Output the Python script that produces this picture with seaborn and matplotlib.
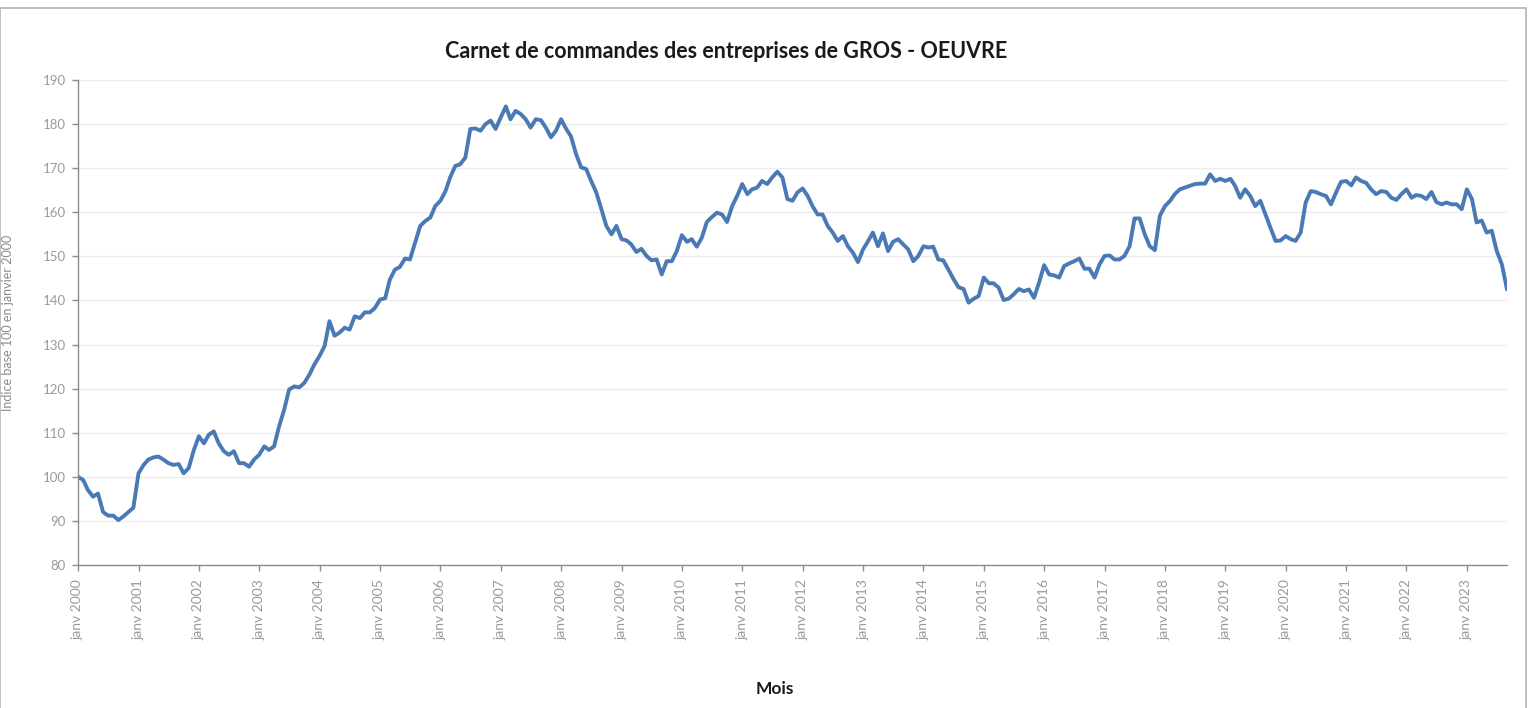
import pandas as pd
import seaborn as sns
import matplotlib.pyplot as plt
import matplotlib.patches as mpatches

# Monthly index values, janv 2000 -> sept 2023 (base 100 = janv 2000)
values = [
    100.0, 99.3, 97.0, 95.5, 96.2, 92.0, 91.2, 91.2, 90.2, 91.0, 92.0, 93.0,
    100.8, 102.7, 103.9, 104.4, 104.6, 103.9, 103.1, 102.7, 102.9, 100.8, 102.0, 106.0,
    109.2, 107.6, 109.5, 110.3, 107.6, 105.8, 105.0, 105.8, 103.1, 103.1, 102.3, 103.9,
    105.0, 106.9, 106.1, 106.9, 111.4, 115.2, 119.8, 120.5, 120.3, 121.3, 123.2, 125.5,
    127.4, 129.7, 135.3, 132.0, 132.7, 133.8, 133.4, 136.4, 136.0, 137.3, 137.3, 138.3,
    140.2, 140.5, 144.7, 147.0, 147.6, 149.5, 149.3, 153.1, 156.9, 158.0, 158.8, 161.4,
    162.6, 164.8, 167.9, 170.5, 170.9, 172.4, 178.9, 179.0, 178.5, 180.0, 180.8, 178.9,
    181.5, 184.0, 181.1, 183.0, 182.3, 181.1, 179.2, 181.1, 180.9, 179.2, 177.0, 178.5,
    181.1, 178.9, 177.2, 173.2, 170.2, 169.8, 167.1, 164.5, 160.7, 156.9, 155.0, 156.9,
    153.9, 153.6, 152.7, 151.0, 151.7, 150.1, 149.1, 149.3, 145.9, 148.9, 148.9, 151.2,
    154.8, 153.3, 153.9, 152.2, 154.2, 157.8, 158.9, 159.9, 159.5, 157.8, 161.4, 163.7,
    166.4, 164.1, 165.2, 165.6, 167.1, 166.4, 167.9, 169.2, 167.9, 163.0, 162.6, 164.5,
    165.4, 163.7, 161.4, 159.5, 159.5, 156.9, 155.4, 153.5, 154.6, 152.3, 150.8, 148.7,
    151.6, 153.5, 155.4, 152.3, 155.2, 151.2, 153.3, 153.9, 152.7, 151.6, 148.9, 150.1,
    152.3, 152.0, 152.2, 149.3, 149.1, 147.0, 144.9, 143.0, 142.6, 139.5, 140.4, 141.0,
    145.2, 143.9, 143.9, 142.9, 140.1, 140.4, 141.4, 142.6, 142.1, 142.5, 140.6, 144.0,
    148.0, 145.9, 145.7, 145.2, 147.8, 148.4, 148.9, 149.5, 147.2, 147.2, 145.2, 148.2,
    150.1, 150.2, 149.3, 149.3, 150.1, 152.3, 158.6, 158.6, 155.0, 152.3, 151.4, 159.2,
    161.4, 162.6, 164.1, 165.2, 165.6, 166.0, 166.4, 166.5, 166.5, 168.6, 167.1, 167.6,
    167.1, 167.6, 166.0, 163.3, 165.2, 163.7, 161.4, 162.6, 159.5, 156.5, 153.5, 153.6,
    154.6, 153.9, 153.5, 155.4, 162.2, 164.8, 164.6, 164.1, 163.7, 161.8, 164.5, 166.9,
    167.1, 166.1, 167.9, 167.1, 166.7, 165.2, 164.1, 164.8, 164.6, 163.3, 162.8, 164.1,
    165.2, 163.3, 163.9, 163.7, 163.0, 164.6, 162.3, 161.8, 162.2, 161.8, 161.8, 160.7,
    165.2, 163.0, 157.7, 158.1, 155.4, 155.8, 151.2, 148.2, 142.5,
]
months = pd.date_range("2000-01-01", periods=len(values), freq="MS")
years = list(range(2000, 2024))
tick_labels = [f"janv {y}" for y in years]

df = pd.DataFrame({"Mois": months, "Indice": values})

sns.set_style("white")
plt.rcParams["font.family"] = ["Lato", "DejaVu Sans"]

fig = plt.figure(figsize=(15.33, 7.08), dpi=100)
ax = fig.add_axes([78 / 1533, 1 - 565 / 708, (1507 - 78) / 1533, (565 - 80) / 708])

sns.lineplot(data=df, x="Mois", y="Indice", ax=ax, color="#4a7ab5", linewidth=2.8)

ax.set_ylim(80, 190)
ax.set_yticks(range(80, 191, 10))
ax.set_xlim(months[0], months[-1])
ax.set_xticks(pd.to_datetime([f"{y}-01-01" for y in years]))
ax.set_xticklabels(tick_labels, rotation=90)

ax.yaxis.grid(True, color="#ececec", linewidth=1)
ax.xaxis.grid(False)
for s in ["top", "right"]:
    ax.spines[s].set_visible(False)
for s in ["left", "bottom"]:
    ax.spines[s].set_color("#8c8c8c")
    ax.spines[s].set_linewidth(1)

ax.tick_params(axis="both", colors="#8c8c8c", labelsize=9.5, length=4, width=1,
               direction="out", labelcolor="#9a9a9a")
ax.tick_params(axis="x", pad=6, labelsize=10)
ax.tick_params(axis="y", left=True, pad=5)
ax.tick_params(axis="x", bottom=True)

ax.set_xlabel("")
ax.set_ylabel("Indice base 100 en janvier 2000", color="#8a8a8a", fontsize=9, va="center")
ax.yaxis.set_label_coords(-0.049, 0.5)

fig.text(726 / 1533, 1 - 51 / 708, "Carnet de commandes des entreprises de GROS - OEUVRE",
         ha="center", va="center", fontsize=15.5, fontweight="bold", color="#1a1a1a")
fig.text(775 / 1533, 1 - 689 / 708, "Mois", ha="center", va="center",
         fontsize=12.5, fontweight="bold", color="#1a1a1a")

# chart area frame
frame = mpatches.Rectangle((0.0, -0.02), 1526 / 1533, (708 - 8) / 708 + 0.02,
                           transform=fig.transFigure, fill=False,
                           edgecolor="#b5b5b5", linewidth=1.2, clip_on=False)
fig.patches.append(frame)

fig.savefig("out.png", dpi=100, facecolor="white")
